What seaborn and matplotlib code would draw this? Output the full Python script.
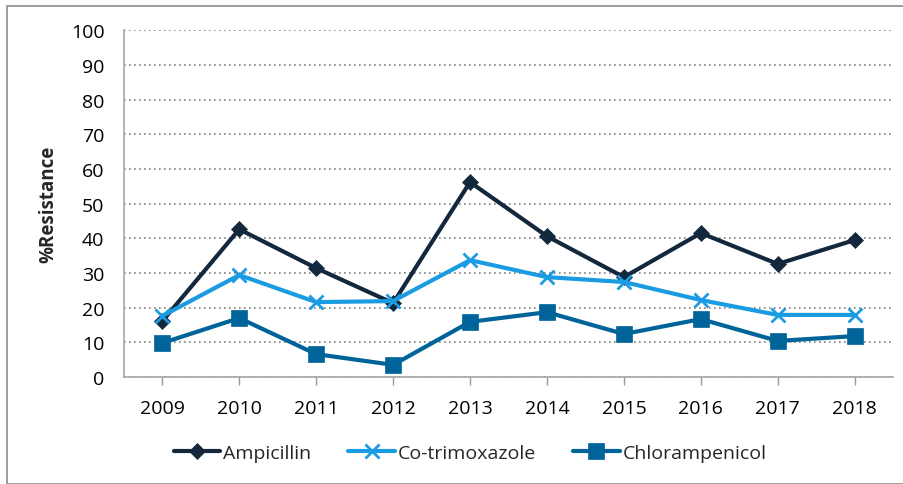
import numpy as np
import pandas as pd
import matplotlib
matplotlib.use("Agg")
import matplotlib.pyplot as plt
import seaborn as sns
from matplotlib.patches import Rectangle

# data
years = [2009, 2010, 2011, 2012, 2013, 2014, 2015, 2016, 2017, 2018]
ampicillin = [16.1, 42.6, 31.4, 21.3, 56.2, 40.6, 28.8, 41.5, 32.6, 39.5]
cotrimoxazole = [17.6, 29.4, 21.6, 21.9, 33.7, 28.8, 27.4, 22.2, 17.9, 17.9]
chloramphenicol = [9.8, 17.0, 6.6, 3.5, 15.9, 18.7, 12.4, 16.7, 10.4, 11.8]

series = {
    "Ampicillin": ampicillin,
    "Co-trimoxazole": cotrimoxazole,
    "Chlorampenicol": chloramphenicol,
}
colors = {"Ampicillin": "#13283c", "Co-trimoxazole": "#1b9ce2", "Chlorampenicol": "#00649a"}
markers = {"Ampicillin": "D", "Co-trimoxazole": "x", "Chlorampenicol": "s"}
msizes = {"Ampicillin": 8, "Co-trimoxazole": 10, "Chlorampenicol": 11}

sns.set_theme(style="white")
plt.rcParams["font.family"] = ["Open Sans", "DejaVu Sans"]

fig = plt.figure(figsize=(9.04, 4.85), dpi=100)
ax = fig.add_axes([0.137, 0.2206, 0.851, 0.715])

for name, vals in series.items():
    df = pd.DataFrame({"year": years, "value": vals})
    sns.lineplot(data=df, x="year", y="value", ax=ax, color=colors[name],
                 linewidth=3, marker=markers[name], markersize=msizes[name],
                 markeredgewidth=2 if markers[name] == "x" else 0.5,
                 markeredgecolor=colors[name], label=name)

ax.set_xlim(2008.5, 2018.5)
ax.set_ylim(0, 100)
ax.set_xticks(years)
ax.set_xticklabels([str(y) for y in years])
ax.set_yticks(range(0, 101, 10))
ax.yaxis.grid(True, linestyle=(0, (1, 2)), color="#7f7f7f", linewidth=1.2)
ax.xaxis.grid(False)
ax.set_xlabel("")
ax.set_ylabel("%Resistance", fontsize=13.5, fontweight="bold", labelpad=9)
ax.tick_params(axis="both", labelsize=14, colors="#000000")
ax.tick_params(axis="x", bottom=True, length=6, color="#999999", width=1, pad=10)
ax.tick_params(axis="y", left=False, length=0, pad=14)
for side in ["top", "right"]:
    ax.spines[side].set_visible(False)
for side in ["left", "bottom"]:
    ax.spines[side].set_color("#a6a6a6")
    ax.spines[side].set_linewidth(1.2)

ax.legend(loc="center", bbox_to_anchor=(0.45, -0.22), ncol=3,
          frameon=False, fontsize=14, handlelength=2.4, columnspacing=1.9,
          handletextpad=0.15)

# outer chart border
fig.patches.append(Rectangle((7 / 904, 0.0), 1.0, 1 - 7 / 485, transform=fig.transFigure,
                             fill=False, edgecolor="#8c8c8c", linewidth=1.2))

fig.savefig("out.png", dpi=100)
